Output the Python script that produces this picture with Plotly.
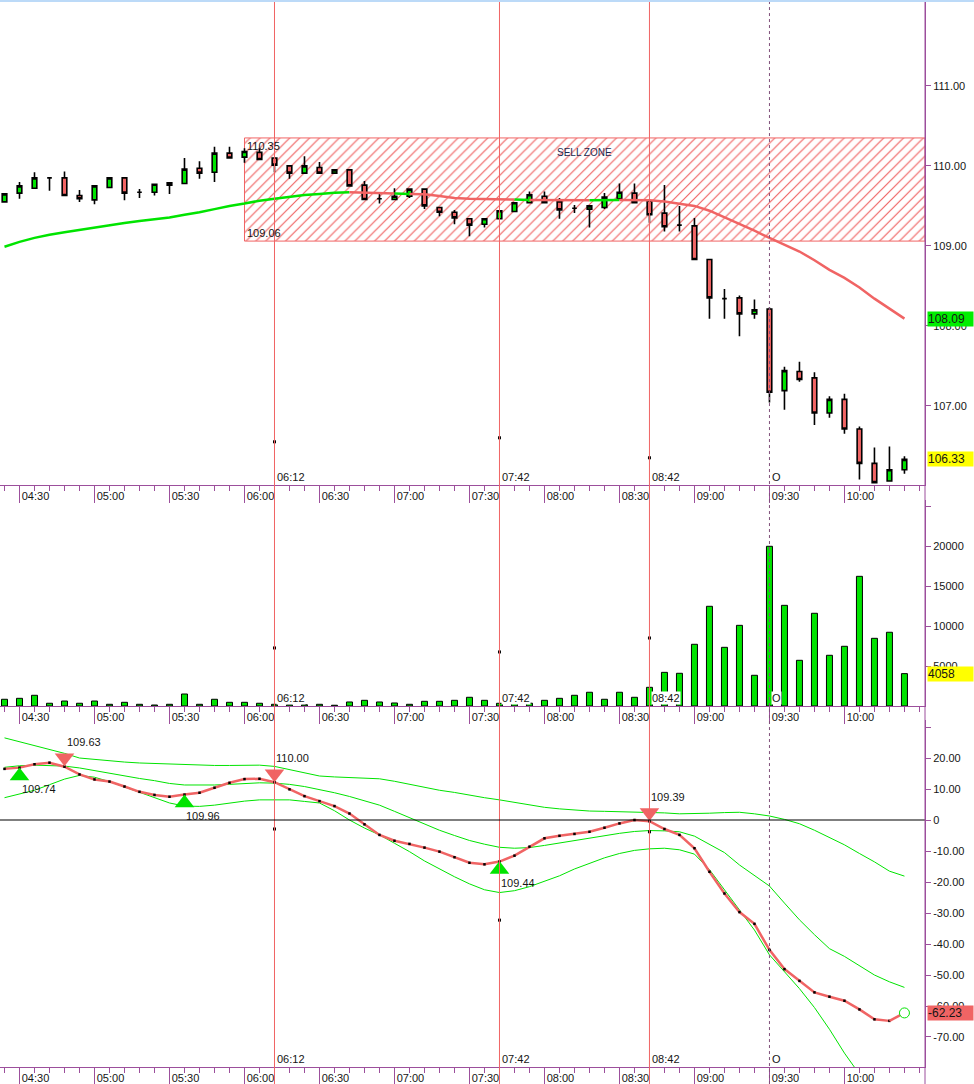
import plotly.graph_objects as go

# one bar every 6 minutes, bar 0 = 04:24
bar_idx = list(range(61))

opens = [109.55, 109.66, 109.72, 109.85, 109.85, 109.63, 109.575, 109.73, 109.85, 109.67,
         109.67, 109.76, 109.78, 109.97, 109.92, 110.16, 110.11, 110.17, 110.10, 110.00,
         109.91, 109.98, 109.91, 109.95, 109.76, 109.59, 109.58, 109.62, 109.71, 109.48,
         109.42, 109.34, 109.27, 109.34, 109.43, 109.54, 109.62, 109.55, 109.47, 109.46,
         109.48, 109.59, 109.66, 109.56, 109.41, 109.26, 109.25, 108.83, 108.34, 108.35,
         108.15, 108.21, 107.19, 107.43, 107.35, 106.91, 107.08, 106.71, 106.28, 106.06,
         106.20]
highs = [109.66, 109.80, 109.92, 109.86, 109.93, 109.70, 109.76, 109.86, 109.86, 109.71,
         109.78, 109.80, 110.10, 110.06, 110.24, 110.24, 110.22, 110.22, 110.11, 110.00,
         110.12, 110.05, 109.95, 109.96, 109.81, 109.65, 109.72, 109.71, 109.71, 109.48,
         109.45, 109.35, 109.35, 109.45, 109.55, 109.68, 109.68, 109.60, 109.51, 109.51,
         109.66, 109.78, 109.78, 109.58, 109.76, 109.50, 109.35, 108.83, 108.46, 108.38,
         108.33, 108.23, 107.49, 107.55, 107.42, 107.12, 107.15, 106.74, 106.48, 106.49,
         106.37]
lows = [109.54, 109.59, 109.71, 109.69, 109.62, 109.55, 109.52, 109.72, 109.57, 109.60,
        109.63, 109.65, 109.78, 109.84, 109.80, 110.10, 110.04, 110.08, 109.92, 109.84,
        109.91, 109.91, 109.90, 109.75, 109.58, 109.53, 109.57, 109.60, 109.46, 109.37,
        109.27, 109.12, 109.23, 109.34, 109.42, 109.53, 109.53, 109.34, 109.41, 109.23,
        109.46, 109.59, 109.54, 109.29, 109.18, 109.18, 108.82, 108.09, 108.09, 107.87,
        108.09, 107.04, 106.95, 107.30, 106.76, 106.85, 106.65, 106.08, 106.04, 106.05,
        106.15]
closes = [109.65, 109.75, 109.85, 109.85, 109.63, 109.59, 109.75, 109.85, 109.66, 109.67,
          109.77, 109.79, 109.96, 109.91, 110.16, 110.10, 110.18, 110.08, 110.01, 109.91,
          110.00, 109.91, 109.95, 109.75, 109.58, 109.59, 109.62, 109.71, 109.50, 109.42,
          109.35, 109.26, 109.34, 109.44, 109.54, 109.64, 109.54, 109.45, 109.47, 109.50,
          109.61, 109.67, 109.54, 109.39, 109.24, 109.26, 108.83, 108.35, 108.34, 108.15,
          108.20, 107.17, 107.44, 107.33, 106.91, 107.08, 106.71, 106.28, 106.04, 106.20,
          106.33]

ma = [108.99, 109.05, 109.10, 109.14, 109.17, 109.20, 109.23, 109.255, 109.285, 109.31,
      109.33, 109.355, 109.39, 109.42, 109.46, 109.50, 109.53, 109.565, 109.59, 109.615,
      109.635, 109.65, 109.665, 109.67, 109.665, 109.66, 109.655, 109.65, 109.645, 109.625,
      109.60, 109.59, 109.585, 109.58, 109.58, 109.575, 109.575, 109.575, 109.57, 109.57,
      109.57, 109.575, 109.575, 109.57, 109.555, 109.53, 109.50, 109.44, 109.36, 109.28,
      109.19, 109.10, 109.01, 108.93, 108.82, 108.70, 108.60, 108.48, 108.34, 108.21,
      108.09]
# colour of each MA segment (g = rising, r = falling)
ma_trend = "ggggggggggggggggggggggg" + "rrr" + "g" + "rrrrrrr" + "g" + "rrrr" + "gg" + "rrrrrrrrrrrrrrrrrrr"

volume = [840, 960, 1340, 340, 620, 340, 620, 210, 460, 210,
          120, 210, 1500, 210, 840, 460, 460, 340, 210, 150,
          150, 210, 90, 500, 710, 500, 375, 210, 585, 585,
          710, 1090, 710, 335, 300, 350, 710, 960, 1340, 1720,
          840, 1720, 1090, 2340, 4220, 4100, 7740, 12510, 7360, 10120,
          3850, 20040, 12630, 5730, 11630, 6360, 7490, 16270, 8490, 9250,
          4058]

osc = [16.5, 16.9, 18.0, 18.5, 17.2, 14.7, 13.1, 12.4, 10.8, 9.1,
       8.1, 7.5, 8.2, 8.8, 10.4, 12.0, 13.2, 13.3, 12.2, 9.9,
       7.7, 6.1, 4.5, 2.1, -1.4, -4.8, -6.7, -7.7, -8.9, -10.2,
       -12.0, -13.8, -14.3, -13.4, -11.5, -8.6, -5.9, -5.1, -4.5, -3.8,
       -2.5, -1.1, 0.0, -0.4, -2.9, -4.8, -9.1, -16.7, -23.7, -29.7,
       -33.5, -41.9, -48.1, -51.9, -55.6, -57.0, -58.3, -61.1, -64.3, -64.8,
       -62.23]
band_upper = [26.5, 25.3, 24.0, 22.8, 21.5, 20.0, 19.5, 19.1, 18.7, 18.4,
              18.2, 18.0, 17.8, 17.7, 17.6, 17.6, 17.6, 17.7, 17.3, 16.2,
              15.2, 14.2, 13.9, 13.7, 13.5, 13.3, 12.5, 11.5, 10.5, 9.6,
              8.9, 8.0, 7.2, 6.5, 5.7, 4.9, 4.1, 3.6, 3.2, 2.9,
              2.8, 2.7, 2.7, 2.6, 2.3, 2.0, 2.0, 2.2, 2.4, 2.5,
              2.0, 1.3, 0.2, -1.2, -3.3, -5.7, -8.0, -10.8, -13.5, -16.5,
              -18.1]
band_mid = [17.0, 17.5, 17.7, 17.6, 17.4, 16.8, 15.9, 15.0, 14.2, 13.4,
            12.7, 11.8, 11.3, 11.2, 11.3, 11.5, 11.8, 12.0, 11.9, 11.5,
            10.8, 9.9, 8.8, 7.6, 6.3, 4.8, 2.8, 0.8, -1.3, -3.3,
            -5.0, -6.6, -7.8, -8.8, -9.1, -8.9, -8.2, -7.4, -6.5, -5.8,
            -5.0, -4.3, -3.7, -3.4, -3.5, -3.8, -5.2, -7.8, -10.5, -14.5,
            -18.0, -21.3, -26.8, -32.2, -37.0, -41.5, -44.0, -47.0, -50.0, -52.2,
            -54.0]
band_lower = [7.2, 8.3, 9.6, 11.4, 13.2, 14.4, 13.8, 12.4, 10.7, 9.0,
              7.3, 5.5, 4.5, 4.4, 4.8, 5.5, 6.1, 6.5, 6.6, 6.5,
              6.0, 5.5, 3.0, 0.0, -2.6, -4.8, -7.5, -10.2, -13.2, -15.8,
              -18.3, -20.6, -22.5, -23.4, -22.8, -21.5, -19.8, -18.0, -15.8, -14.0,
              -12.2, -10.8, -9.8, -9.3, -9.1, -9.6, -11.0, -16.0, -22.5, -29.0,
              -35.5, -43.5, -48.9, -54.4, -60.5, -67.5, -75.2, -82.0, -88.0, -93.0,
              -97.0]

buy_idx = [1, 12, 33]
buy_val = [14.2, 5.5, -16.0]
buy_lbl = ["109.74", "109.96", "109.44"]
sell_idx = [4, 18, 43]
sell_val = [20.1, 14.9, 2.4]
sell_lbl = ["109.63", "110.00", "109.39"]

zone_start = 16
zone_top = 110.35
zone_bottom = 109.06

vline_idx = [18, 33, 43]
vline_lbl = ["06:12", "07:42", "08:42"]
vline_price = [106.55, 106.60, 106.35]
vline_vol = [7280, 6780, 8530]
vline_osc = [-2.9, -32.3, -3.8]
cursor_idx = 51

tick_idx = [1, 6, 11, 16, 21, 26, 31, 36, 41, 46, 51, 56]
tick_lbl = ["04:30", "05:00", "05:30", "06:00", "06:30", "07:00",
            "07:30", "08:00", "08:30", "09:00", "09:30", "10:00"]

X_MIN, X_MAX = -0.3, 61.37
PURPLE = "#9c4f9c"
GREEN = "#00e400"
RED = "#f06464"
TXT = "#151515"
FONT = "Liberation Sans"

fig = go.Figure()

# hatched sell zone
fig.add_trace(go.Bar(
    x=[(zone_start + X_MAX) / 2], y=[zone_top - zone_bottom], base=[zone_bottom],
    width=[X_MAX - zone_start],
    marker=dict(color="white", line=dict(color=RED, width=1),
                pattern=dict(shape="/", fgcolor=RED, bgcolor="white", size=7,
                             solidity=0.17, fillmode="replace")),
    xaxis="x", yaxis="y", hoverinfo="skip", showlegend=False))

fig.add_trace(go.Candlestick(
    x=bar_idx, open=opens, high=highs, low=lows, close=closes,
    increasing=dict(fillcolor=GREEN, line=dict(color="black", width=1.6)),
    decreasing=dict(fillcolor=RED, line=dict(color="black", width=1.6)),
    whiskerwidth=0, xaxis="x", yaxis="y", hoverinfo="skip", showlegend=False))

# moving average, coloured per run
run_start = 0
for k in range(1, len(ma_trend) + 1):
    if k == len(ma_trend) or ma_trend[k] != ma_trend[run_start]:
        col = GREEN if ma_trend[run_start] == "g" else RED
        fig.add_trace(go.Scatter(
            x=bar_idx[run_start:k + 1], y=ma[run_start:k + 1], mode="lines",
            line=dict(color=col, width=2.5), xaxis="x", yaxis="y",
            hoverinfo="skip", showlegend=False))
        run_start = k

fig.add_trace(go.Bar(
    x=bar_idx, y=volume, width=0.4,
    marker=dict(color=GREEN, line=dict(color="black", width=1)),
    xaxis="x2", yaxis="y2", hoverinfo="skip", showlegend=False))

for band in (band_upper, band_mid, band_lower):
    fig.add_trace(go.Scatter(
        x=bar_idx, y=band, mode="lines", line=dict(color=GREEN, width=1),
        xaxis="x3", yaxis="y3", hoverinfo="skip", showlegend=False))

fig.add_trace(go.Scatter(
    x=bar_idx[:-1], y=osc[:-1], mode="lines+markers", line=dict(color=RED, width=2.5),
    marker=dict(color="black", size=2.5, symbol="square"),
    xaxis="x3", yaxis="y3", hoverinfo="skip", showlegend=False))
fig.add_trace(go.Scatter(
    x=bar_idx[-2:], y=osc[-2:], mode="lines", line=dict(color=RED, width=2.5),
    xaxis="x3", yaxis="y3", hoverinfo="skip", showlegend=False))
fig.add_trace(go.Scatter(
    x=[bar_idx[-1]], y=[osc[-1]], mode="markers",
    marker=dict(symbol="circle", size=10, color="white", line=dict(width=1, color=GREEN)),
    xaxis="x3", yaxis="y3", hoverinfo="skip", showlegend=False))
fig.add_trace(go.Scatter(
    x=buy_idx, y=buy_val, mode="markers",
    marker=dict(symbol="triangle-up", size=17, color=GREEN),
    xaxis="x3", yaxis="y3", hoverinfo="skip", showlegend=False))
fig.add_trace(go.Scatter(
    x=sell_idx, y=sell_val, mode="markers",
    marker=dict(symbol="triangle-down", size=17, color=RED),
    xaxis="x3", yaxis="y3", hoverinfo="skip", showlegend=False))

# small dots sitting on the vertical marker lines
for yv, ax in ((vline_price, "y"), (vline_vol, "y2"), (vline_osc, "y3")):
    fig.add_trace(go.Scatter(
        x=vline_idx, y=yv, mode="markers",
        marker=dict(color="black", size=3, symbol="square"),
        xaxis="x" + ax[1:], yaxis=ax, hoverinfo="skip", showlegend=False))

annotations = []
for i, v, t in zip(buy_idx, buy_val, buy_lbl):
    annotations.append(dict(x=i, y=v, xref="x3", yref="y3", text=t,
                            showarrow=False, xanchor="left", yanchor="top", yshift=-5,
                            font=dict(family=FONT, size=11, color=TXT)))
for i, v, t in zip(sell_idx, sell_val, sell_lbl):
    annotations.append(dict(x=i, y=v, xref="x3", yref="y3", text=t,
                            showarrow=False, xanchor="left", yanchor="bottom", yshift=8,
                            font=dict(family=FONT, size=11, color=TXT)))

# zone labels
annotations.append(dict(x=zone_start, y=zone_top, xref="x", yref="y", text=f"{zone_top:.2f}",
                        showarrow=False, xanchor="left", yanchor="top", xshift=1,
                        font=dict(family=FONT, size=11, color=TXT)))
annotations.append(dict(x=zone_start, y=zone_bottom, xref="x", yref="y", text=f"{zone_bottom:.2f}",
                        showarrow=False, xanchor="left", yanchor="bottom", xshift=1,
                        font=dict(family=FONT, size=11, color=TXT)))
annotations.append(dict(x=(zone_start + X_MAX) / 2, y=zone_top, xref="x", yref="y", text="SELL ZONE",
                        showarrow=False, xanchor="center", yanchor="top", yshift=-7,
                        font=dict(family=FONT, size=10, color="#1c2a50")))

# labels at the foot of each vertical line
for ax in ("", "2", "3"):
    for i, t in zip(vline_idx + [cursor_idx], vline_lbl + ["O"]):
        annotations.append(dict(x=i, y=0, xref="x" + ax, yref=f"y{ax} domain", text=t,
                                showarrow=False, xanchor="left", yanchor="bottom", xshift=2,
                                yshift=1, bgcolor="white", borderpad=0,
                                font=dict(family=FONT, size=11, color=TXT)))

# price tags on the right axis
tags = [(ma[-1], "y", "#00ee00", f"{ma[-1]:.2f}"),
        (closes[-1], "y", "#ffff00", f"{closes[-1]:.2f}"),
        (volume[-1], "y2", "#ffff00", f"{volume[-1]}"),
        (osc[-1], "y3", RED, f"{osc[-1]:.2f}")]
for val, ax, col, txt in tags:
    annotations.append(dict(x=1, y=val, xref="paper", yref=ax, text=txt, showarrow=False,
                            xanchor="left", yanchor="middle", xshift=2, bgcolor=col,
                            width=45, height=14, align="left", borderpad=0,
                            font=dict(family=FONT, size=12, color=TXT)))

shapes = []
for i in vline_idx:
    shapes.append(dict(type="line", xref="x", yref="paper", x0=i, x1=i, y0=-0.016, y1=1,
                       line=dict(color=RED, width=1), layer="above"))
shapes.append(dict(type="line", xref="x", yref="paper", x0=cursor_idx, x1=cursor_idx,
                   y0=-0.016, y1=1, line=dict(color="#80507a", width=1, dash="3px,3px"),
                   layer="above"))
shapes.append(dict(type="line", xref="paper", yref="y3", x0=0, x1=1, y0=0, y1=0,
                   line=dict(color="black", width=1.2)))
shapes.append(dict(type="line", xref="paper", yref="paper", x0=1, x1=1, y0=-0.016, y1=1,
                   line=dict(color=PURPLE, width=1)))
shapes.append(dict(type="rect", xref="paper", yref="paper", x0=-0.01, x1=1.06, y0=1,
                   y1=1.0025, line=dict(width=0), fillcolor="#bcdaf8"))

xcommon = dict(
    range=[X_MIN, X_MAX], showgrid=False, zeroline=False, showline=True,
    linecolor=PURPLE, linewidth=1, ticks="outside", ticklen=17, tickcolor=PURPLE,
    tickmode="array", tickvals=tick_idx, ticktext=tick_lbl,
    ticklabelshift=16, ticklabelstandoff=-16,
    tickfont=dict(family=FONT, size=11, color=TXT),
    minor=dict(ticks="outside", ticklen=5, tickmode="linear", tick0=0, dtick=1,
               tickcolor=PURPLE, showgrid=False),
    fixedrange=True)
ycommon = dict(
    side="right", showgrid=False, zeroline=False, showline=True, linecolor=PURPLE,
    ticks="outside", ticklen=5, tickcolor=PURPLE, automargin=False,
    tickfont=dict(family=FONT, size=11, color=TXT), fixedrange=True)

fig.update_layout(
    width=974, height=1084,
    margin=dict(l=0, r=49, t=2, b=17, autoexpand=False),
    paper_bgcolor="white", plot_bgcolor="white",
    boxgap=0.56, barmode="overlay", showlegend=False,
    xaxis=dict(xcommon, anchor="y", rangeslider=dict(visible=False)),
    xaxis2=dict(xcommon, anchor="y2", matches="x"),
    xaxis3=dict(xcommon, anchor="y3", matches="x"),
    yaxis=dict(ycommon, domain=[0.5465, 1.0], anchor="x", range=[106.01, 112.05],
               tickvals=[107, 108, 109, 110, 111], tickformat=".2f"),
    yaxis2=dict(ycommon, domain=[0.3390, 0.5324], anchor="x2", range=[0, 25850],
                tickvals=[5000, 10000, 15000, 20000, 25000],
                ticktext=["5000", "10000", "15000", "20000", ""]),
    yaxis3=dict(ycommon, domain=[0, 0.3258], anchor="x3", range=[-79.68, 32.26],
                tickvals=[30, 20, 10, 0, -10, -20, -30, -40, -50, -60, -70],
                ticktext=["", "20.00", "10.00", "0", "-10.00", "-20.00", "-30.00",
                          "-40.00", "-50.00", "-60.00", "-70.00"]),
    annotations=annotations,
    shapes=shapes,
)

# page margin off so the chart sits at the window's top-left corner
fig.write_html("out.html", config={"displayModeBar": False},
               post_script="document.body.style.margin='0';")
